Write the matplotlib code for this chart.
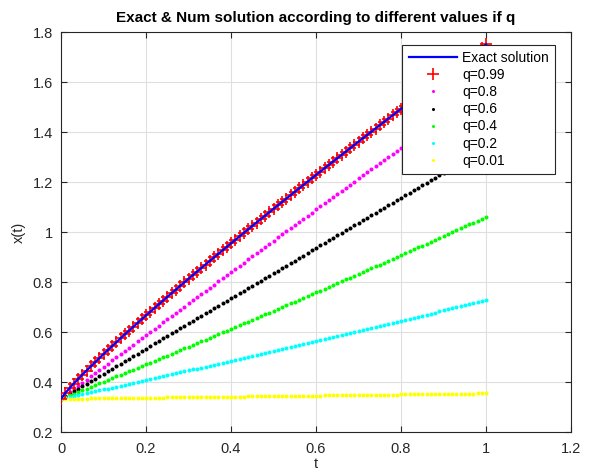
import matplotlib
matplotlib.use("Agg")
import matplotlib.pyplot as plt
import numpy as np

plt.rcParams['font.family'] = ['Liberation Sans', 'DejaVu Sans']

# time grid (t = 0 : 0.01 : 1)
t = [k / 100 for k in range(101)]

# exact solution (line)
t_exact = [0, 0.01, 0.02, 0.03, 0.05, 0.10, 0.15, 0.20, 0.25, 0.30, 0.35, 0.40, 0.45, 0.50,
           0.55, 0.60, 0.65, 0.70, 0.75, 0.80, 0.85, 0.90, 0.95, 1.00]
x_exact = [0.3333, 0.3558, 0.3752, 0.3937, 0.4289, 0.5117, 0.5902, 0.6662, 0.7402, 0.8128,
           0.8842, 0.9545, 1.0239, 1.0927, 1.1606, 1.2281, 1.2949, 1.3612, 1.4271, 1.4925,
           1.5575, 1.6221, 1.6864, 1.7503]

x_q099 = [0.3333, 0.3558, 0.3752, 0.3937, 0.4115, 0.4289, 0.4459, 0.4627, 0.4793, 0.4956,
          0.5117, 0.5277, 0.5435, 0.5592, 0.5748, 0.5902, 0.6056, 0.6209, 0.6361, 0.6512,
          0.6662, 0.6812, 0.6960, 0.7108, 0.7256, 0.7402, 0.7548, 0.7694, 0.7839, 0.7984,
          0.8128, 0.8271, 0.8415, 0.8557, 0.8700, 0.8842, 0.8983, 0.9124, 0.9265, 0.9405,
          0.9545, 0.9684, 0.9824, 0.9962, 1.0101, 1.0239, 1.0378, 1.0515, 1.0653, 1.0789,
          1.0927, 1.1063, 1.1199, 1.1335, 1.1472, 1.1606, 1.1742, 1.1877, 1.2012, 1.2146,
          1.2281, 1.2414, 1.2549, 1.2682, 1.2815, 1.2949, 1.3082, 1.3215, 1.3347, 1.3480,
          1.3612, 1.3745, 1.3876, 1.4008, 1.4140, 1.4271, 1.4402, 1.4533, 1.4663, 1.4794,
          1.4925, 1.5056, 1.5186, 1.5316, 1.5445, 1.5575, 1.5705, 1.5834, 1.5963, 1.6092,
          1.6221, 1.6350, 1.6479, 1.6607, 1.6736, 1.6864, 1.6993, 1.7120, 1.7248, 1.7376,
          1.7503]

x_q08 = [0.3330, 0.3458, 0.3586, 0.3714, 0.3841, 0.3969, 0.4097, 0.4225, 0.4352, 0.4480,
         0.4607, 0.4734, 0.4862, 0.4989, 0.5116, 0.5243, 0.5370, 0.5497, 0.5624, 0.5751,
         0.5878, 0.6005, 0.6131, 0.6258, 0.6385, 0.6511, 0.6638, 0.6764, 0.6890, 0.7017,
         0.7143, 0.7269, 0.7395, 0.7521, 0.7647, 0.7773, 0.7899, 0.8025, 0.8151, 0.8276,
         0.8402, 0.8528, 0.8653, 0.8779, 0.8904, 0.9029, 0.9155, 0.9280, 0.9405, 0.9530,
         0.9655, 0.9780, 0.9905, 1.0030, 1.0155, 1.0279, 1.0404, 1.0529, 1.0653, 1.0778,
         1.0902, 1.1026, 1.1151, 1.1275, 1.1399, 1.1523, 1.1647, 1.1771, 1.1895, 1.2019,
         1.2143, 1.2267, 1.2390, 1.2514, 1.2638, 1.2761, 1.2885, 1.3008, 1.3131, 1.3255,
         1.3378, 1.3501, 1.3624, 1.3747, 1.3870, 1.3993, 1.4116, 1.4239, 1.4362, 1.4484,
         1.4607, 1.4730, 1.4852, 1.4975, 1.5097, 1.5219, 1.5342, 1.5464, 1.5586, 1.5708,
         1.5830]

x_q06 = [0.3330, 0.3431, 0.3531, 0.3632, 0.3732, 0.3833, 0.3933, 0.4034, 0.4134, 0.4235,
         0.4335, 0.4436, 0.4536, 0.4637, 0.4737, 0.4838, 0.4938, 0.5039, 0.5139, 0.5240,
         0.5340, 0.5441, 0.5541, 0.5642, 0.5742, 0.5843, 0.5943, 0.6044, 0.6144, 0.6245,
         0.6345, 0.6446, 0.6546, 0.6647, 0.6747, 0.6848, 0.6948, 0.7049, 0.7149, 0.7250,
         0.7350, 0.7451, 0.7551, 0.7652, 0.7752, 0.7853, 0.7953, 0.8054, 0.8154, 0.8255,
         0.8355, 0.8456, 0.8556, 0.8657, 0.8757, 0.8858, 0.8958, 0.9059, 0.9159, 0.9260,
         0.9360, 0.9461, 0.9561, 0.9662, 0.9762, 0.9863, 0.9963, 1.0064, 1.0164, 1.0265,
         1.0365, 1.0466, 1.0566, 1.0667, 1.0767, 1.0868, 1.0968, 1.1069, 1.1169, 1.1270,
         1.1370, 1.1471, 1.1571, 1.1672, 1.1772, 1.1873, 1.1973, 1.2074, 1.2174, 1.2275,
         1.2375, 1.2476, 1.2576, 1.2677, 1.2777, 1.2878, 1.2978, 1.3079, 1.3179, 1.3280,
         1.3380]

x_q04 = [0.3330, 0.3398, 0.3466, 0.3534, 0.3603, 0.3671, 0.3740, 0.3808, 0.3877, 0.3946,
         0.4015, 0.4084, 0.4153, 0.4222, 0.4291, 0.4361, 0.4430, 0.4500, 0.4570, 0.4639,
         0.4709, 0.4779, 0.4849, 0.4919, 0.4990, 0.5060, 0.5130, 0.5201, 0.5272, 0.5342,
         0.5413, 0.5484, 0.5555, 0.5626, 0.5698, 0.5769, 0.5840, 0.5912, 0.5983, 0.6055,
         0.6127, 0.6199, 0.6271, 0.6343, 0.6415, 0.6487, 0.6560, 0.6632, 0.6705, 0.6777,
         0.6850, 0.6923, 0.6996, 0.7069, 0.7142, 0.7215, 0.7289, 0.7362, 0.7435, 0.7509,
         0.7583, 0.7657, 0.7731, 0.7805, 0.7879, 0.7953, 0.8027, 0.8102, 0.8176, 0.8251,
         0.8325, 0.8400, 0.8475, 0.8550, 0.8625, 0.8700, 0.8775, 0.8851, 0.8926, 0.9002,
         0.9077, 0.9153, 0.9229, 0.9305, 0.9381, 0.9457, 0.9533, 0.9609, 0.9686, 0.9762,
         0.9839, 0.9916, 0.9992, 1.0069, 1.0146, 1.0223, 1.0300, 1.0378, 1.0455, 1.0532,
         1.0610]

x_q02 = [0.3330, 0.3367, 0.3404, 0.3441, 0.3478, 0.3516, 0.3553, 0.3590, 0.3628, 0.3665,
         0.3703, 0.3740, 0.3778, 0.3815, 0.3853, 0.3891, 0.3928, 0.3966, 0.4004, 0.4042,
         0.4080, 0.4118, 0.4156, 0.4194, 0.4232, 0.4271, 0.4309, 0.4347, 0.4386, 0.4424,
         0.4463, 0.4501, 0.4540, 0.4578, 0.4617, 0.4656, 0.4694, 0.4733, 0.4772, 0.4811,
         0.4850, 0.4889, 0.4928, 0.4967, 0.5006, 0.5046, 0.5085, 0.5124, 0.5164, 0.5203,
         0.5243, 0.5282, 0.5322, 0.5361, 0.5401, 0.5441, 0.5480, 0.5520, 0.5560, 0.5600,
         0.5640, 0.5680, 0.5720, 0.5760, 0.5800, 0.5841, 0.5881, 0.5921, 0.5962, 0.6002,
         0.6043, 0.6083, 0.6124, 0.6164, 0.6205, 0.6246, 0.6286, 0.6327, 0.6368, 0.6409,
         0.6450, 0.6491, 0.6532, 0.6573, 0.6614, 0.6656, 0.6697, 0.6738, 0.6780, 0.6821,
         0.6863, 0.6904, 0.6946, 0.6987, 0.7029, 0.7071, 0.7112, 0.7154, 0.7196, 0.7238,
         0.7280]

x_q001 = [0.333, 0.333, 0.333, 0.334, 0.334, 0.334, 0.334, 0.335, 0.335, 0.335,
          0.335, 0.335, 0.336, 0.336, 0.336, 0.336, 0.337, 0.337, 0.337, 0.337,
          0.337, 0.338, 0.338, 0.338, 0.338, 0.339, 0.339, 0.339, 0.339, 0.339,
          0.340, 0.340, 0.340, 0.340, 0.340, 0.341, 0.341, 0.341, 0.341, 0.342,
          0.342, 0.342, 0.342, 0.342, 0.343, 0.343, 0.343, 0.343, 0.344, 0.344,
          0.344, 0.344, 0.344, 0.345, 0.345, 0.345, 0.345, 0.346, 0.346, 0.346,
          0.346, 0.346, 0.347, 0.347, 0.347, 0.347, 0.348, 0.348, 0.348, 0.348,
          0.348, 0.349, 0.349, 0.349, 0.349, 0.350, 0.350, 0.350, 0.350, 0.350,
          0.351, 0.351, 0.351, 0.351, 0.351, 0.352, 0.352, 0.352, 0.352, 0.353,
          0.353, 0.353, 0.353, 0.353, 0.354, 0.354, 0.354, 0.354, 0.355, 0.355,
          0.355]

labels = ['Exact solution', 'q=0.99', 'q=0.8', 'q=0.6', 'q=0.4', 'q=0.2', 'q=0.01']
x_ticks = [0, 0.2, 0.4, 0.6, 0.8, 1, 1.2]
y_ticks = [0.2, 0.4, 0.6, 0.8, 1, 1.2, 1.4, 1.6, 1.8]
x_tick_labels = ['0', '0.2', '0.4', '0.6', '0.8', '1', '1.2']
y_tick_labels = ['0.2', '0.4', '0.6', '0.8', '1', '1.2', '1.4', '1.6', '1.8']

fig = plt.figure(figsize=(5.92, 4.73), dpi=100)
ax = fig.add_axes([61 / 592, 1 - 432 / 473, 510 / 592, 400 / 473])

axc = '#262626'
dot = dict(linestyle='none', marker='o', markersize=2.9, markeredgewidth=0)

ax.plot(t, x_q099, linestyle='none', marker='+', color='red', markersize=8, markeredgewidth=1.2,
        label=labels[1], zorder=3)
ax.plot(t_exact, x_exact, color='blue', linewidth=1.6, label=labels[0], zorder=4)
ax.plot(t, x_q08, color='magenta', label=labels[2], **dot)
ax.plot(t, x_q06, color='black', label=labels[3], **dot)
ax.plot(t, x_q04, color='#00ff00', label=labels[4], **dot)
ax.plot(t, x_q02, color='cyan', label=labels[5], **dot)
ax.plot(t, x_q001, color='yellow', label=labels[6], **dot)

ax.set_xlim(0, 1.2)
ax.set_ylim(0.2, 1.8)
ax.set_xticks(x_ticks)
ax.set_xticklabels(x_tick_labels)
ax.set_yticks(y_ticks)
ax.set_yticklabels(y_tick_labels)
ax.grid(True, color='#dfdfdf', linewidth=0.8)
ax.set_axisbelow(True)
for s in ax.spines.values():
    s.set_color(axc)
    s.set_linewidth(0.8)
ax.tick_params(direction='in', length=4, width=0.8, colors=axc, labelsize=10.5,
               top=True, right=True)
ax.tick_params(axis='x', pad=7)
ax.tick_params(axis='y', pad=6)

ax.set_title('Exact & Num solution according to different values if q', fontsize=11,
             fontweight='bold', color='black', pad=7)
ax.set_xlabel('t', fontsize=10.5, color=axc, labelpad=1)
ax.set_ylabel('x(t)', fontsize=10.5, color=axc, labelpad=5)

handles, labs = ax.get_legend_handles_labels()
order = [labs.index(l) for l in labels]
leg = ax.legend([handles[i] for i in order], [labs[i] for i in order],
                loc='upper right', bbox_to_anchor=((555 - 61) / 510, (432 - 45) / 400),
                borderaxespad=0, fontsize=10, fancybox=False, framealpha=1,
                edgecolor='#262626', handlelength=3.5, handletextpad=0.35,
                labelspacing=0.22, borderpad=0.45)
leg.get_frame().set_linewidth(0.8)
leg.set_zorder(10)
for h in leg.legend_handles[2:]:
    h.set_markersize(2.2)

fig.savefig('out.png', dpi=100)
